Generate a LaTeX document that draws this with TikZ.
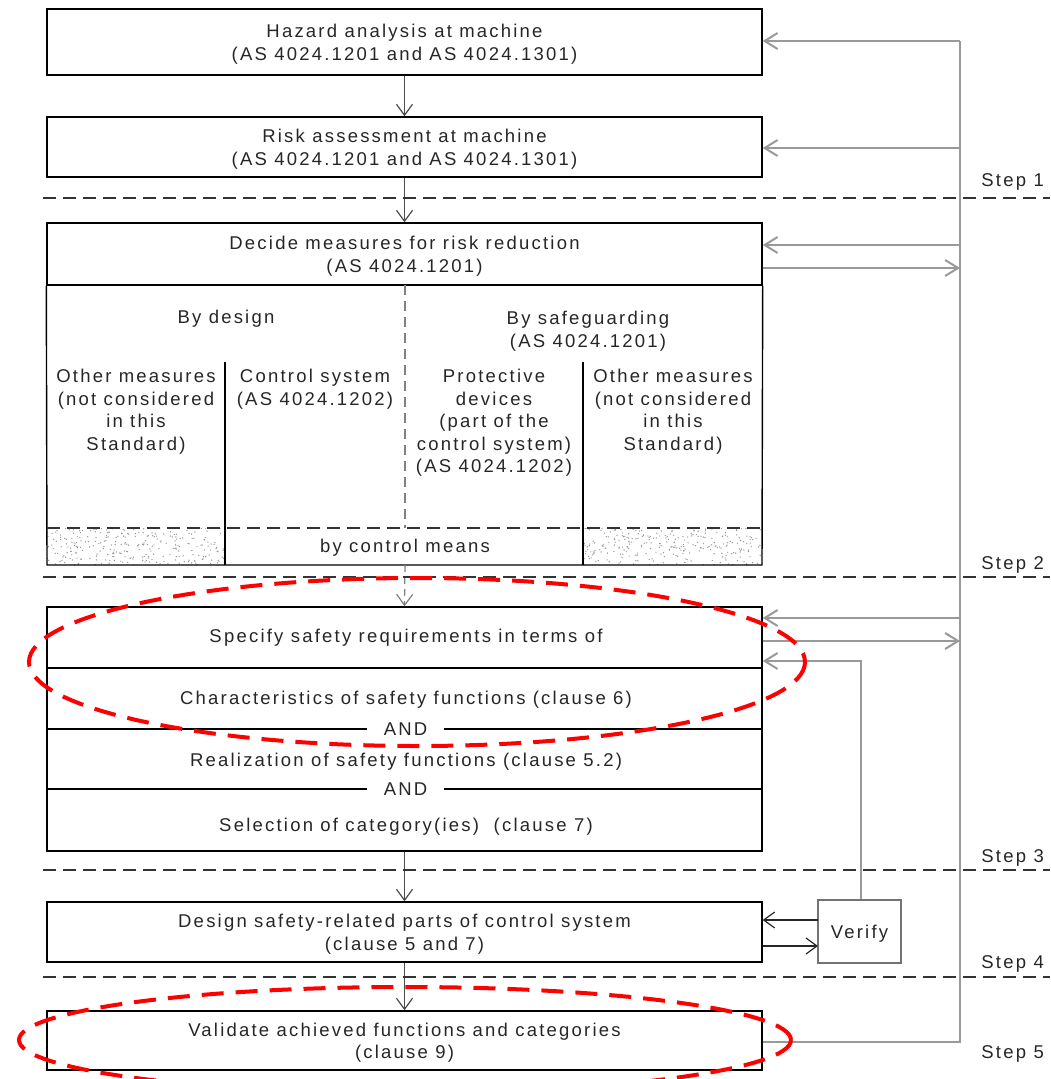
\documentclass[tikz,border=0pt]{standalone}
\usepackage{fontspec}
\setmainfont{Liberation Sans}[LetterSpace=12]
\usetikzlibrary{arrows.meta}
\begin{document}
\begin{tikzpicture}[x=1pt,y=-1pt,
  font=\fontsize{18.5}{22.5}\selectfont,
  every node/.style={text=black!85},
  box/.style={draw=black, line width=1.4pt, minimum width=715pt, inner sep=0pt},
  lbl/.style={align=center, inner sep=0pt, yshift=-2pt},
  andl/.style={inner sep=0pt, inner xsep=17pt},
  arr/.style={draw=black!70, line width=1.2pt, -{Straight Barb[length=11pt,width=16pt]}},
  fb/.style={draw=black!40, line width=2pt},
  fbarr/.style={fb, -{Straight Barb[length=13pt,width=16pt]}},
  sep/.style={draw=black!80, line width=1.3pt, dash pattern=on 13pt off 7pt},
  vdash/.style={draw=black!50, line width=1.2pt, dash pattern=on 10pt off 6pt},
  steplbl/.style={anchor=east, inner sep=0pt, yshift=-1pt},
  hl/.style={draw=red, line width=4pt, dash pattern=on 22pt off 12pt},
  frame/.style={draw=black, line width=1.4pt}
]
\useasboundingbox (0,0) rectangle (1050,1079);

% main boxes
\node[box, minimum height=66pt] (b1) at (404.5,42) {};
\node[lbl] (b1t) at (b1.center) {Hazard analysis at machine\\(AS 4024.1201 and AS 4024.1301)};
\node[box, minimum height=60pt] (b2) at (404.5,147) {};
\node[lbl] (b2t) at (b2.center) {Risk assessment at machine\\(AS 4024.1201 and AS 4024.1301)};
\node[box, minimum height=62pt] (b3) at (404.5,254) {};
\node[lbl] (b3t) at (b3.center) {Decide measures for risk reduction\\(AS 4024.1201)};
\node[box, minimum height=244pt] (b4) at (404.5,729) {};
\node[box, minimum height=60pt] (b5) at (404.5,932) {};
\node[lbl] (b5t) at (b5.center) {Design safety-related parts of control system\\(clause 5 and 7)};
\node[box, minimum height=59pt] (b6) at (404.5,1040.5) {};
\node[lbl] (b6t) at (b6.center) {Validate achieved functions and categories\\(clause 9)};
\node[draw=black!55, line width=1.4pt, minimum width=83pt, minimum height=63pt, inner sep=0pt] (ver) at (859.5,931.5) {};
\node[lbl] (vert) at (ver.center) {Verify};

% measures region
\coordinate (rsw) at (47,565);
\coordinate (rse) at (762,565);
\coordinate (rb) at (405,565);
\begin{scope}
\clip (47,528) rectangle (225,565);
\pgfmathsetseed{7}
\foreach \i in {1,...,280} {\fill[black!42] ({47+rnd*178},{528+rnd*37}) circle (0.7);}
\end{scope}
\begin{scope}
\clip (583,528) rectangle (762,565);
\pgfmathsetseed{11}
\foreach \i in {1,...,280} {\fill[black!42] ({583+rnd*179},{528+rnd*37}) circle (0.7);}
\end{scope}
\draw[frame] (b3.south west) -- (rsw) -- (rse) -- (b3.south east);
\draw[frame] (225,362) -- (225,565);
\draw[frame] (583,362) -- (583,565);
\draw[vdash] (405,285) -- (405,528);
\draw[sep] (47,528) -- (762,528);

\node[lbl] (bd) at (226,317) {By design};
\node[lbl, anchor=north] (bs) at (588,309) {By safeguarding\\(AS 4024.1201)};
\node[lbl, anchor=north] (c1) at (136,367) {Other measures\\(not considered\\in this\\Standard)};
\node[lbl, anchor=north] (c2) at (315,367) {Control system\\(AS 4024.1202)};
\node[lbl, anchor=north] (c3) at (494,367) {Protective\\devices\\(part of the\\control system)\\(AS 4024.1202)};
\node[lbl, anchor=north] (c4) at (673,367) {Other measures\\(not considered\\in this\\Standard)};
\node[lbl] (cm) at (405,546) {by control means};

% box 4 content
\node[lbl] (t1) at (406,636) {Specify safety requirements in terms of};
\draw[frame] (47,668) -- (762,668);
\node[lbl] (t2) at (406,698) {Characteristics of safety functions (clause 6)};
\node[andl] (and1) at (405.5,729) {AND};
\draw[line width=1.3pt] (47,729) -- (and1.west);
\draw[line width=1.3pt] (and1.east) -- (762,729);
\node[lbl] (t3) at (406,760) {Realization of safety functions (clause 5.2)};
\node[andl] (and2) at (405.5,789) {AND};
\draw[line width=1.3pt] (47,789) -- (and2.west);
\draw[line width=1.3pt] (and2.east) -- (762,789);
\node[lbl] (t4) at (406,825) {Selection of category(ies)\ \ (clause 7)};

% down arrows
\draw[arr] (b1) -- (b2);
\draw[arr] (b2) -- (b3);
\draw[arr, dash pattern=on 7pt off 5pt, draw=black!50] (rb) -- (b4.north);
\draw[arr] (b4) -- (b5);
\draw[arr] (b5) -- (b6);

% separators
\draw[sep] (43,198) -- (1050,198);
\draw[sep] (43,577) -- (1050,577);
\draw[sep] (43,870) -- (1050,870);
\draw[sep] (43,977) -- (1050,977);
\node[steplbl] (s1) at (1044,181) {Step 1};
\node[steplbl] (s2) at (1044,564) {Step 2};
\node[steplbl] (s3) at (1044,857) {Step 3};
\node[steplbl] (s4) at (1044,963) {Step 4};
\node[steplbl] (s5) at (1044,1053) {Step 5};

% feedback
\coordinate (ft) at (960,41);
\coordinate (fe) at (960,1042);
\coordinate (f2) at (960,148);
\coordinate (f3a) at (960,245);
\coordinate (f3b) at (960,268);
\coordinate (f4a) at (960,618);
\coordinate (f4b) at (960,641);
\draw[fb] (ft) -- (fe) -- (b6.east |- fe);
\draw[fbarr] (ft) -- (b1.east |- ft);
\draw[fbarr] (f2) -- (b2.east |- f2);
\draw[fbarr] (f3a) -- (b3.east |- f3a);
\draw[fbarr] (b3.east |- f3b) -- (f3b);
\draw[fbarr] (f4a) -- (b4.east |- f4a);
\draw[fbarr] (b4.east |- f4b) -- (f4b);

% verify
\coordinate (vr) at (861,661);
\coordinate (v1) at (818,920);
\coordinate (v2) at (818,946);
\draw[fbarr] (ver.north -| vr) -- (vr) -- (b4.east |- vr);
\draw[arr, draw=black!85] (v1) -- (b5.east |- v1);
\draw[arr, draw=black!85] (b5.east |- v2) -- (v2);

% highlights
\draw[hl] (417,662) ellipse [x radius=388, y radius=84];
\draw[hl] (405,1040) ellipse [x radius=386, y radius=53];
\end{tikzpicture}
\end{document}
